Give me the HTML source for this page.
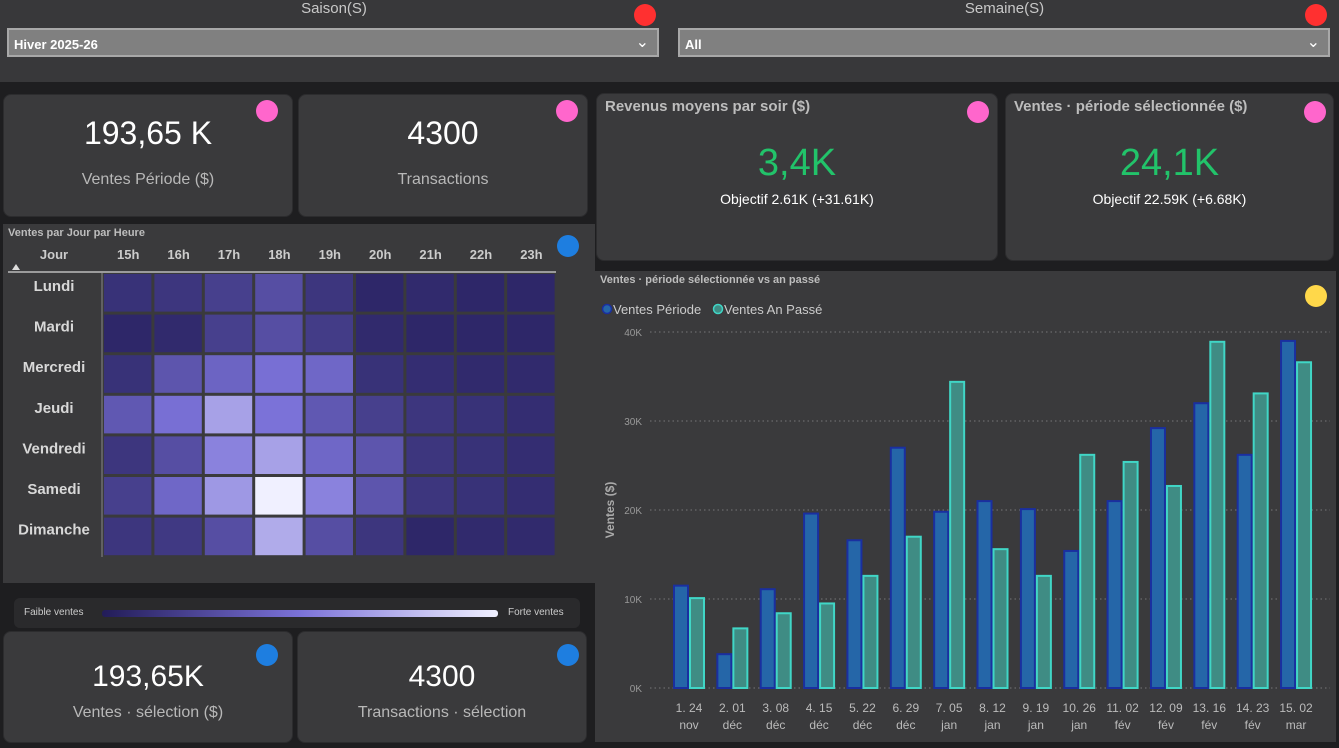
<!DOCTYPE html>
<html><head><meta charset="utf-8"><style>
*{box-sizing:border-box;margin:0;padding:0}
body{width:1339px;height:748px;background:#1e1e20;font-family:"Liberation Sans",sans-serif;position:relative;overflow:hidden;color:#fff}
.abs{position:absolute}
.card{position:absolute;background:#3a3a3c;border-radius:8px;border:1px solid #2c2c2e}
.dot{position:absolute;width:22px;height:22px;border-radius:50%}
.big{position:absolute;width:100%;text-align:center;font-size:32px;color:#fff}
.lbl{position:absolute;width:100%;text-align:center;font-size:16px;color:#b8b8b8}
.dd{position:absolute;top:28px;height:29px;background:#808080;border:2px solid #a8a8a8;font-size:13px;font-weight:bold;padding:7px 5px;color:#fff}
.ttl{position:absolute;font-size:11px;font-weight:bold;color:#bdbdbd}
</style></head><body>
<div class="abs" style="left:0;top:0;width:1339px;height:82px;background:#38383a"></div>
<div class="abs" style="left:0;top:0;width:668px;text-align:center;font-size:15px;color:#c8c8c8">Saison(S)</div>
<div class="dot" style="left:634px;top:4px;background:#ff3030"></div>
<div class="dd" style="left:7px;width:652px">Hiver 2025-26<span style="position:absolute;right:8px;top:2px;font-weight:normal;font-size:16px">&#8964;</span></div>
<div class="abs" style="left:670px;top:0;width:669px;text-align:center;font-size:15px;color:#c8c8c8">Semaine(S)</div>
<div class="dot" style="left:1305px;top:4px;background:#ff3030"></div>
<div class="dd" style="left:678px;width:652px">All<span style="position:absolute;right:8px;top:2px;font-weight:normal;font-size:16px">&#8964;</span></div>

<div class="card" style="left:3px;top:94px;width:290px;height:123px"><div class="big" style="top:20px">193,65 K</div><div class="lbl" style="top:76px">Ventes Période ($)</div><div class="dot" style="left:252px;top:5px;background:#ff66cc"></div></div>
<div class="card" style="left:298px;top:94px;width:290px;height:123px"><div class="big" style="top:20px">4300</div><div class="lbl" style="top:76px">Transactions</div><div class="dot" style="left:257px;top:5px;background:#ff66cc"></div></div>
<div class="card" style="left:596px;top:93px;width:402px;height:168px"><div class="ttl" style="left:8px;top:4px;font-size:15px">Revenus moyens par soir ($)</div><div class="big" style="top:48px;font-size:38px;color:#22c36a">3,4K</div><div class="lbl" style="top:97px;font-size:14px;color:#fff">Objectif 2.61K (+31.61K)</div><div class="dot" style="left:370px;top:7px;background:#ff66cc"></div></div>
<div class="card" style="left:1005px;top:93px;width:329px;height:168px"><div class="ttl" style="left:8px;top:4px;font-size:15px">Ventes · période sélectionnée ($)</div><div class="big" style="top:48px;font-size:38px;color:#22c36a">24,1K</div><div class="lbl" style="top:97px;font-size:14px;color:#fff">Objectif 22.59K (+6.68K)</div><div class="dot" style="left:298px;top:7px;background:#ff66cc"></div></div>

<div class="abs" style="left:3px;top:224px;width:592px;height:359px;background:#3a3a3c"></div>
<div class="ttl" style="left:8px;top:227px">Ventes par Jour par Heure</div>
<div class="dot" style="left:557px;top:235px;background:#1e7ee0"></div>
<svg class="abs" id="hm" style="left:0;top:0" width="600" height="600"></svg>

<div class="abs" style="left:14px;top:598px;width:566px;height:30px;background:#2a2a2c;border-radius:6px">
<span style="position:absolute;left:10px;top:9px;font-size:10px;color:#ccc">Faible ventes</span>
<div style="position:absolute;left:88px;top:12px;width:396px;height:7px;border-radius:3px;background:linear-gradient(90deg,#221c58,#7b72d8,#f0f0ff)"></div>
<span style="position:absolute;left:494px;top:9px;font-size:10px;color:#ccc">Forte ventes</span></div>

<div class="card" style="left:3px;top:631px;width:290px;height:112px"><div class="big" style="top:28px;font-size:30px">193,65K</div><div class="lbl" style="top:72px">Ventes · sélection ($)</div><div class="dot" style="left:252px;top:12px;background:#1e7ee0"></div></div>
<div class="card" style="left:297px;top:631px;width:290px;height:112px"><div class="big" style="top:28px;font-size:30px">4300</div><div class="lbl" style="top:72px">Transactions · sélection</div><div class="dot" style="left:259px;top:12px;background:#1e7ee0"></div></div>

<div class="abs" style="left:595px;top:271px;width:741px;height:471px;background:#3a3a3c"></div>
<div class="ttl" style="left:600px;top:274px">Ventes · période sélectionnée vs an passé</div>
<div class="dot" style="left:1305px;top:285px;background:#ffd84a"></div>
<svg class="abs" id="ch" style="left:0;top:0" width="1339" height="748"></svg>

<script>
const days=["Lundi","Mardi","Mercredi","Jeudi","Vendredi","Samedi","Dimanche"];
const hours=["15h","16h","17h","18h","19h","20h","21h","22h","23h"];
const heat=[
[15,18,25,35,18,8,10,8,8],
[8,10,25,35,22,10,8,8,8],
[15,40,50,58,52,15,12,10,10],
[42,58,75,60,42,25,18,15,12],
[18,35,65,75,52,40,18,15,12],
[25,52,72,100,65,40,18,15,12],
[18,20,35,78,35,18,8,10,10]];
const cats=[["1. 24","nov"],["2. 01","déc"],["3. 08","déc"],["4. 15","déc"],["5. 22","déc"],["6. 29","déc"],["7. 05","jan"],["8. 12","jan"],["9. 19","jan"],["10. 26","jan"],["11. 02","fév"],["12. 09","fév"],["13. 16","fév"],["14. 23","fév"],["15. 02","mar"]];
const cur=[11.5,3.8,11.1,19.6,16.6,27,19.8,21,20.1,15.4,21,29.2,32,26.2,39];
const prev=[10.1,6.7,8.4,9.5,12.6,17,34.4,15.6,12.6,26.2,25.4,22.7,38.9,33.1,36.6];
const yTicks=[0,10,20,30,40];
const NS="http://www.w3.org/2000/svg";
function mk(p,t,a,txt){const e=document.createElementNS(NS,t);for(const k in a)e.setAttribute(k,a[k]);if(txt!==undefined)e.textContent=txt;p.appendChild(e);return e;}
function lerp(a,b,t){return a.map((v,i)=>Math.round(v+(b[i]-v)*t));}
function col(v){const t=v/100;const c=t<0.6?lerp([34,28,88],[123,114,216],t/0.6):lerp([123,114,216],[240,240,255],(t-0.6)/0.4);return `rgb(${c})`;}
const hm=document.getElementById('hm');
const hx0=103,hy0=273,cw=50.4,chh=40.6;
const hx=i=>hx0+i*cw, hy=j=>hy0+j*chh;
mk(hm,'line',{x1:8,x2:556,y1:272,y2:272,stroke:'#bbb','stroke-width':1.5});
mk(hm,'line',{x1:102,x2:102,y1:273,y2:557,stroke:'#888','stroke-width':1});
mk(hm,'text',{x:54,y:259,'text-anchor':'middle','font-size':13,fill:'#ccc','font-weight':'bold'},'Jour');
mk(hm,'path',{d:'M12 270 L16 264 L20 270 Z',fill:'#ddd'});
hours.forEach((h,i)=>{const t=mk(hm,'text',{x:hx(i)+cw/2,y:259,'text-anchor':'middle','font-size':13,fill:'#ccc','font-weight':'bold'},h);});
days.forEach((d,j)=>{const t=mk(hm,'text',{x:54,y:hy(j)+18,'text-anchor':'middle','font-size':15,fill:'#d8d8d8','font-weight':'bold'},d);
heat[j].forEach((v,i)=>{const r=mk(hm,'rect',{x:hx(i)+1,y:hy(j)+1,width:cw-3,height:chh-3,fill:col(v)});});});

const ch=document.getElementById('ch');
const y0=688,pxK=8.9,x0=689,step=43.36,bw=14;
const ys=v=>y0-v*pxK, xs=i=>x0+i*step;
yTicks.forEach(t=>{mk(ch,'line',{x1:650,x2:1330,y1:ys(t),y2:ys(t),stroke:'#777','stroke-dasharray':'1.5 3'});
const l=mk(ch,'text',{x:642,y:ys(t)+4,'text-anchor':'end','font-size':10,fill:'#999'},t+'K');});
const yt=mk(ch,'text',{x:614,y:510,'text-anchor':'middle','font-size':12,'font-weight':'bold',fill:'#aaa',transform:'rotate(-90 614 510)'},'Ventes ($)');
cats.forEach((c,i)=>{
const b1=mk(ch,'rect',{x:xs(i)-bw-1,y:ys(cur[i]),width:bw,height:cur[i]*pxK,fill:'#2566a8',stroke:'#1a2fa0','stroke-width':2});
const b2=mk(ch,'rect',{x:xs(i)+1,y:ys(prev[i]),width:bw,height:prev[i]*pxK,fill:'#3f8c84',stroke:'#40d6c6','stroke-width':2});
const t1=mk(ch,'text',{x:xs(i),y:712,'text-anchor':'middle','font-size':12,fill:'#bbb'},c[0]);
const t2=mk(ch,'text',{x:xs(i),y:729,'text-anchor':'middle','font-size':12,fill:'#bbb'},c[1]);});
mk(ch,'circle',{cx:607,cy:309,r:4.5,fill:'#2566a8',stroke:'#1a2fa0','stroke-width':1.5});
const l1=mk(ch,'text',{x:613,y:314,'font-size':13,fill:'#ccc'},'Ventes Période');
mk(ch,'circle',{cx:718,cy:309,r:4.5,fill:'#3f8c84',stroke:'#40d6c6','stroke-width':1.5});
const l2=mk(ch,'text',{x:724,y:314,'font-size':13,fill:'#ccc'},'Ventes An Passé');
</script>
</body></html>
